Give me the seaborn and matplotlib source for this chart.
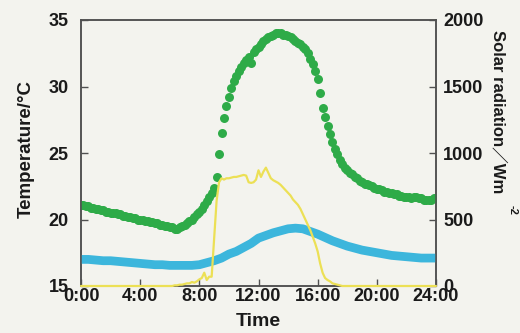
import numpy as np
import pandas as pd
import matplotlib
matplotlib.use("Agg")
import matplotlib.pyplot as plt
import seaborn as sns
from matplotlib import font_manager

# 10-minute samples, one row per hour
temp_green = [
    21.1, 21.1, 21.0, 21.0, 20.9, 20.9,
    20.8, 20.8, 20.7, 20.7, 20.6, 20.6,
    20.5, 20.5, 20.5, 20.4, 20.4, 20.3,
    20.3, 20.2, 20.2, 20.1, 20.1, 20.0,
    20.0, 20.0, 19.9, 19.9, 19.8, 19.8,
    19.7, 19.7, 19.6, 19.6, 19.5, 19.5,
    19.4, 19.4, 19.3, 19.3, 19.4, 19.5,
    19.6, 19.7, 19.9, 20.0, 20.2, 20.4,
    20.6, 20.8, 21.1, 21.4, 21.7, 22.0,
    22.4, 23.2, 24.9, 26.5, 27.6, 28.5,
    29.2, 29.9, 30.4, 30.8, 31.2, 31.5,
    31.8, 32.0, 32.2, 31.8, 32.6, 32.8,
    33.0, 33.2, 33.4, 33.6, 33.7, 33.8,
    33.9, 34.0, 34.0, 34.0, 33.9, 33.9,
    33.8, 33.7, 33.6, 33.4, 33.3, 33.2,
    33.0, 32.8, 32.5, 32.1, 31.7, 31.2,
    30.6, 29.5, 28.4, 27.7, 27.0, 26.4,
    25.8, 25.3, 24.9, 24.5, 24.2, 23.9,
    23.7, 23.5, 23.4, 23.2, 23.1, 22.9,
    22.8, 22.7, 22.7, 22.6, 22.5, 22.4,
    22.3, 22.3, 22.2, 22.1, 22.1, 22.0,
    22.0, 21.9, 21.9, 21.8, 21.8, 21.7,
    21.7, 21.7, 21.6, 21.7, 21.7, 21.6,
    21.6, 21.5, 21.5, 21.5, 21.5, 21.6,
    21.6,
]

solar = [
    0, 0, 0, 0, 0, 0,
    0, 0, 0, 0, 0, 0,
    0, 0, 0, 0, 0, 0,
    0, 0, 0, 0, 0, 0,
    0, 0, 0, 0, 0, 0,
    0, 0, 0, 0, 0, 0,
    0, 0, 5, 5, 10, 10,
    15, 20, 20, 30, 25, 35,
    50, 60, 100, 45, 70, 70,
    350, 640, 780, 810, 800, 810,
    810, 815, 820, 820, 825, 830,
    835, 830, 780, 775, 780, 800,
    870, 820, 860, 890, 850, 810,
    795, 785, 775, 760, 740, 720,
    700, 680, 650, 630, 610, 580,
    540, 500, 460, 420, 370, 320,
    260, 170, 100, 60, 45, 35,
    20, 15, 10, 5, 0, 0,
    0, 0, 0, 0, 0, 0,
    0, 0, 0, 0, 0, 0,
    0, 0, 0, 0, 0, 0,
    0, 0, 0, 0, 0, 0,
    0, 0, 0, 0, 0, 0,
    0, 0, 0, 0, 0, 0,
    0,
]

# 30-minute samples
temp_blue = [
    17.0, 17.0, 16.95, 16.9, 16.9, 16.85, 16.8, 16.75, 16.7, 16.65,
    16.6, 16.6, 16.55, 16.55, 16.55, 16.55, 16.6, 16.75, 16.9, 17.1,
    17.4, 17.6, 17.9, 18.2, 18.6, 18.8, 19.0, 19.15, 19.3, 19.35,
    19.3, 19.1, 18.9, 18.65, 18.4, 18.2, 18.0, 17.85, 17.7, 17.6,
    17.5, 17.4, 17.3, 17.25, 17.2, 17.15, 17.1, 17.1, 17.1,
]

x_ticks = [0, 4, 8, 12, 16, 20, 24]
x_labels = ["0:00", "4:00", "8:00", "12:00", "16:00", "20:00", "24:00"]
temp_ticks = [15, 20, 25, 30, 35]
solar_ticks = [0, 500, 1000, 1500, 2000]

hours_10 = np.arange(len(temp_green)) / 6
hours_30 = np.arange(len(temp_blue)) / 2
df10 = pd.DataFrame({"hour": hours_10, "green": temp_green, "solar": solar})
df30 = pd.DataFrame({"hour": hours_30, "blue": temp_blue})

sns.set_style("ticks")
names = {f.name for f in font_manager.fontManager.ttflist}
base = "Liberation Sans" if "Liberation Sans" in names else "DejaVu Sans"
narrow = "Liberation Sans Narrow" if "Liberation Sans Narrow" in names else base
plt.rcParams["font.family"] = [base, "Noto Sans CJK JP", "DejaVu Sans"]
plt.rcParams["font.weight"] = "bold"

bg = "#f3f3ee"
spine_c = "#505050"
green = "#2eab48"
blue = "#3cb6dc"
yellow = "#ece055"
txt = "#1a1a1a"

fig = plt.figure(figsize=(5.2, 3.33), dpi=100, facecolor=bg)
ax = fig.add_axes([81 / 520, 1 - 286 / 333, 355 / 520, 266 / 333])
ax.set_facecolor(bg)
ax2 = ax.twinx()

sns.lineplot(data=df30, x="hour", y="blue", ax=ax, color=blue, linewidth=6.3,
             solid_capstyle="round", zorder=3)
sns.scatterplot(data=df10, x="hour", y="green", ax=ax, color=green, s=42,
                linewidth=0, zorder=4)
sns.lineplot(data=df10, x="hour", y="solar", ax=ax2, color=yellow, linewidth=1.6,
             zorder=3, clip_on=False)

ax.set_xlim(0, 24)
ax.set_ylim(15, 35)
ax2.set_ylim(0, 2000)
ax.set_xticks(x_ticks)
ax.set_xticklabels(x_labels)
ax.set_yticks(temp_ticks)
ax2.set_yticks(solar_ticks)
ax.set_xlabel("")
ax.set_ylabel("")
ax2.set_ylabel("")

for a in (ax, ax2):
    for sp in a.spines.values():
        sp.set_visible(True)
        sp.set_color(spine_c)
        sp.set_linewidth(1.1)
        sp.set_zorder(2)
ax.tick_params(axis="x", direction="in", length=5, width=1, color=spine_c,
               pad=1.5, labelsize=13)
ax.tick_params(axis="y", direction="in", length=5, width=1, color=spine_c,
               pad=9, labelsize=13)
ax2.tick_params(axis="y", direction="in", length=5, width=1, color=spine_c,
                pad=5, labelsize=13)
for lbl in ax.get_xticklabels() + ax.get_yticklabels() + ax2.get_yticklabels():
    lbl.set_fontweight("bold")
    lbl.set_color(txt)

fig.text(258 / 520, 1 - 321 / 333, "Time", ha="center", va="center",
         fontsize=14, fontweight="bold", color=txt)
fig.text(26 / 520, 1 - 149 / 333, "Temperature/°C", rotation=90, ha="center",
         va="center", fontsize=13.5, fontweight="bold", color=txt,
         family=[narrow, "DejaVu Sans"])
fig.text(498 / 520, 1 - 30 / 333, "Solar radiation／Wm", rotation=270,
         ha="center", va="top", fontsize=12, fontweight="bold", color=txt,
         family=[narrow, "Noto Sans CJK JP", "DejaVu Sans"])
fig.text(513 / 520, 1 - 210 / 333, "-2", rotation=270, ha="center", va="center",
         fontsize=8, fontweight="bold", color=txt)

fig.savefig("out.png", dpi=100, facecolor=bg)
